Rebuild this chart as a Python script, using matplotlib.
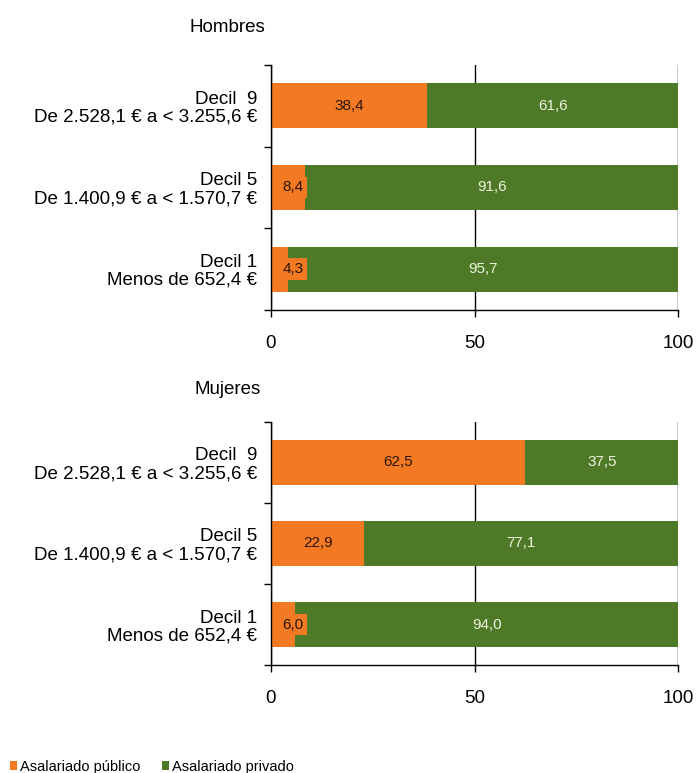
import matplotlib
matplotlib.use('Agg')
import matplotlib.pyplot as plt
from matplotlib.patches import Patch
import numpy as np

plt.rcParams['font.family'] = ['Liberation Sans', 'DejaVu Sans']

# Datos (de abajo hacia arriba: Decil 1, Decil 5, Decil 9)
CATEGORIAS = ['Decil 1\nMenos de 652,4 €',
              'Decil 5\nDe 1.400,9 € a < 1.570,7 €',
              'Decil  9\nDe 2.528,1 € a < 3.255,6 €']
HOMBRES_PUBLICO = [4.3, 8.4, 38.4]
HOMBRES_PRIVADO = [95.7, 91.6, 61.6]
MUJERES_PUBLICO = [6.0, 22.9, 62.5]
MUJERES_PRIVADO = [94.0, 77.1, 37.5]
XTICKS = [0, 50, 100]

NARANJA = '#F37A22'
VERDE = '#4E7A28'


def fmt(v):
    return f'{v:.1f}'.replace('.', ',')


def draw_panel(ax, publico, privado):
    y = np.arange(len(CATEGORIAS))
    ax.barh(y, publico, height=0.55, color=NARANJA, zorder=2)
    ax.barh(y, privado, left=publico, height=0.55, color=VERDE, zorder=2)

    for yi, p, q in zip(y, publico, privado):
        # etiquetas pequeñas se desplazan con caja naranja (como Excel)
        ax.text(max(p / 2, 5.4), yi, fmt(p), ha='center', va='center',
                fontsize=11, color='#2a1408', zorder=3,
                bbox=dict(boxstyle='square,pad=0.25', fc=NARANJA, ec='none'))
        ax.text(p + q / 2, yi, fmt(q), ha='center', va='center',
                fontsize=11, color='#eef2dc', zorder=3)

    ax.set_xlim(0, 100)
    ax.set_ylim(-0.5, len(CATEGORIAS) - 0.5)
    ax.set_xticks(XTICKS)
    ax.set_xticklabels([str(t) for t in XTICKS], fontsize=13.5)
    ax.tick_params(axis='x', direction='out', length=5, width=1, pad=13)

    ax.set_yticks(y)
    ax.set_yticklabels(CATEGORIAS, fontsize=13.5, linespacing=1.05)
    ax.tick_params(axis='y', which='major', length=0, pad=10)
    ax.set_yticks(np.arange(-0.5, len(CATEGORIAS)), minor=True)
    ax.tick_params(axis='y', which='minor', direction='out', length=5, width=1)

    ax.xaxis.grid(True, color='black', linewidth=1)
    ax.set_axisbelow(True)
    for s in ['top', 'right']:
        ax.spines[s].set_visible(False)
    for s in ['left', 'bottom']:
        ax.spines[s].set_linewidth(1)
        ax.spines[s].set_color('black')


fig = plt.figure(figsize=(6.97, 7.73), dpi=100)

ax1 = fig.add_axes([0.3888, 0.599, 0.584, 0.317])
draw_panel(ax1, HOMBRES_PUBLICO, HOMBRES_PRIVADO)
fig.text(0.326, 0.964, 'Hombres', ha='center', va='center', fontsize=13.5)

ax2 = fig.add_axes([0.3888, 0.1397, 0.584, 0.3144])
draw_panel(ax2, MUJERES_PUBLICO, MUJERES_PRIVADO)
fig.text(0.326, 0.4955, 'Mujeres', ha='center', va='center', fontsize=13.5)

handles = [Patch(facecolor=NARANJA, label='Asalariado público'),
           Patch(facecolor=VERDE, label='Asalariado privado')]
fig.legend(handles=handles, loc='center left', bbox_to_anchor=(-0.005, 0.008),
           ncol=2, frameon=False, fontsize=10.5, handlelength=0.5,
           handleheight=0.5, handletextpad=0.2, columnspacing=1.5)

fig.savefig('out.png', dpi=100, facecolor='white')
